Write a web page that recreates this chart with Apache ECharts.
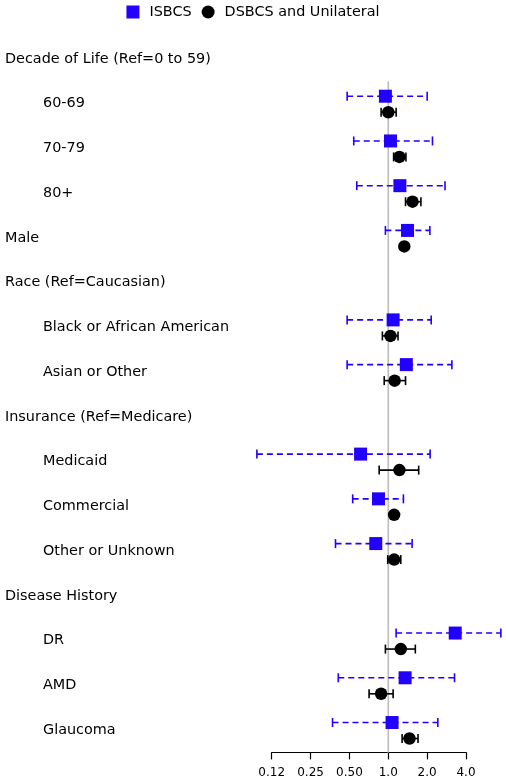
<!DOCTYPE html>
<html>
<head>
<meta charset="utf-8">
<script src="https://cdn.jsdelivr.net/npm/echarts@6/dist/echarts.min.js"></script>
<style>
html,body{margin:0;padding:0;background:#fff;}
#chart{width:506px;height:782px;}
</style>
</head>
<body>
<div id="chart"></div>
<script>
// Row labels (top to bottom)
var categories = [
  'Decade of Life (Ref=0 to 59)', '60-69', '70-79', '80+', 'Male',
  'Race (Ref=Caucasian)', 'Black or African American', 'Asian or Other',
  'Insurance (Ref=Medicare)', 'Medicaid', 'Commercial', 'Other or Unknown',
  'Disease History', 'DR', 'AMD', 'Glaucoma'
];
var indented = [false, true, true, true, false, false, true, true, false, true, true, true, false, true, true, true];

// ISBCS odds ratios and 95% CI
var isbcsEst = [null, 0.95, 1.04, 1.23, 1.41, null, 1.09, 1.38, null, 0.61, 0.84, 0.80, null, 3.30, 1.35, 1.07];
var isbcsLo  = [null, 0.48, 0.54, 0.57, 0.95, null, 0.48, 0.48, null, 0.096, 0.53, 0.39, null, 1.15, 0.41, 0.37];
var isbcsHi  = [null, 2.00, 2.20, 2.75, 2.10, null, 2.15, 3.11, null, 2.11, 1.31, 1.53, null, 7.45, 3.26, 2.42];

// DSBCS and Unilateral odds ratios and 95% CI
var dsbcsEst = [null, 1.00, 1.22, 1.54, 1.33, null, 1.04, 1.12, null, 1.22, 1.11, 1.11, null, 1.25, 0.88, 1.46];
var dsbcsLo  = [null, 0.88, 1.10, 1.36, 1.27, null, 0.90, 0.93, null, 0.85, 1.06, 0.99, null, 0.95, 0.71, 1.28];
var dsbcsHi  = [null, 1.15, 1.37, 1.79, 1.40, null, 1.19, 1.36, null, 1.72, 1.17, 1.25, null, 1.62, 1.09, 1.70];

// Axis ticks
var tickValues = [0.125, 0.25, 0.5, 1, 2, 4];
var tickLabels = ['0.12', '0.25', '0.50', '1.0', '2.0', '4.0'];

var BLUE = '#2200ff';
var FONT = '"DejaVu Sans", sans-serif';

function buildPoints(est) {
  var out = [];
  for (var i = 0; i < categories.length; i++) {
    if (est[i] != null) out.push([est[i], i]);
  }
  return out;
}
function buildCI(est, lo, hi) {
  var out = [];
  for (var i = 0; i < categories.length; i++) {
    if (est[i] != null) out.push([lo[i], hi[i], i]);
  }
  return out;
}

function ciRenderer(offset, color, dashed) {
  return function (params, api) {
    var row = api.value(2);
    var p1 = api.coord([api.value(0), row]);
    var p2 = api.coord([api.value(1), row]);
    var y = p1[1] + offset;
    var cap = 4.5;
    var style = { stroke: color, lineWidth: 1.6, fill: null };
    var lineStyle = dashed ? { stroke: color, lineWidth: 1.6, lineDash: [6, 4], fill: null } : style;
    return {
      type: 'group',
      children: [
        { type: 'line', shape: { x1: p1[0], y1: y, x2: p2[0], y2: y }, style: lineStyle },
        { type: 'line', shape: { x1: p1[0], y1: y - cap, x2: p1[0], y2: y + cap }, style: style },
        { type: 'line', shape: { x1: p2[0], y1: y - cap, x2: p2[0], y2: y + cap }, style: style }
      ]
    };
  };
}

var chart = echarts.init(document.getElementById('chart'));
chart.setOption({
  animation: false,
  backgroundColor: '#ffffff',
  textStyle: { fontFamily: FONT },
  legend: {
    top: 0,
    left: 'center',
    padding: 5,
    itemWidth: 13,
    itemHeight: 13,
    itemGap: 10,
    textStyle: { fontFamily: FONT, fontSize: 14.4, color: '#000', padding: [0, 0, 0, 5] },
    data: [
      { name: 'ISBCS', icon: 'rect' },
      { name: 'DSBCS and Unilateral', icon: 'circle' }
    ]
  },
  grid: { left: 271.7, right: 40, top: 36.6, bottom: 29.6, containLabel: false },
  xAxis: {
    type: 'log',
    logBase: 2,
    min: 0.125,
    max: 4,
    splitNumber: 5,
    axisLine: { show: true, lineStyle: { color: '#000', width: 1.2 } },
    axisTick: { show: true, length: 7, lineStyle: { color: '#000', width: 1.2 } },
    splitLine: { show: false },
    axisLabel: {
      fontFamily: FONT, fontSize: 12, color: '#000', margin: 14,
      formatter: function (v) {
        var best = 0, bd = Infinity;
        for (var i = 0; i < tickValues.length; i++) {
          var d = Math.abs(Math.log(v) - Math.log(tickValues[i]));
          if (d < bd) { bd = d; best = i; }
        }
        return tickLabels[best];
      }
    }
  },
  yAxis: {
    type: 'category',
    data: categories,
    inverse: true,
    axisLine: { show: false },
    axisTick: { show: false },
    splitLine: { show: false },
    axisLabel: {
      align: 'left',
      margin: 266.7,
      interval: 0,
      formatter: function (v, i) {
        return indented[i] ? '{s|' + v + '}' : '{h|' + v + '}';
      },
      rich: {
        h: { fontFamily: FONT, fontSize: 14.4, color: '#000' },
        s: { fontFamily: FONT, fontSize: 14.4, color: '#000', padding: [0, 0, 0, 38] }
      }
    }
  },
  series: [
    {
      type: 'custom',
      silent: true,
      z: 1,
      data: [[1, 1]],
      renderItem: function (params, api) {
        var top = api.coord([1, 1]);
        var bot = api.coord([1, categories.length - 1]);
        var half = api.size([0, 1])[1] / 2;
        return {
          type: 'line',
          shape: { x1: top[0], y1: top[1] - half, x2: top[0], y2: bot[1] + half },
          style: { stroke: '#bdbdbd', lineWidth: 1.6 }
        };
      }
    },
    {
      type: 'custom',
      name: 'ISBCS CI',
      z: 2,
      silent: true,
      clip: false,
      data: buildCI(isbcsEst, isbcsLo, isbcsHi),
      renderItem: ciRenderer(-7.5, BLUE, true)
    },
    {
      type: 'custom',
      name: 'DSBCS CI',
      z: 2,
      silent: true,
      clip: false,
      data: buildCI(dsbcsEst, dsbcsLo, dsbcsHi),
      renderItem: ciRenderer(8.5, '#000', false)
    },
    {
      type: 'scatter',
      name: 'ISBCS',
      z: 3,
      clip: false,
      symbol: 'rect',
      symbolSize: 13,
      symbolOffset: [0, -7.5],
      itemStyle: { color: BLUE, opacity: 1 },
      data: buildPoints(isbcsEst)
    },
    {
      type: 'scatter',
      name: 'DSBCS and Unilateral',
      z: 3,
      clip: false,
      symbol: 'circle',
      symbolSize: 12.5,
      symbolOffset: [0, 8.5],
      itemStyle: { color: '#000', opacity: 1 },
      data: buildPoints(dsbcsEst)
    }
  ]
});
</script>
</body>
</html>
